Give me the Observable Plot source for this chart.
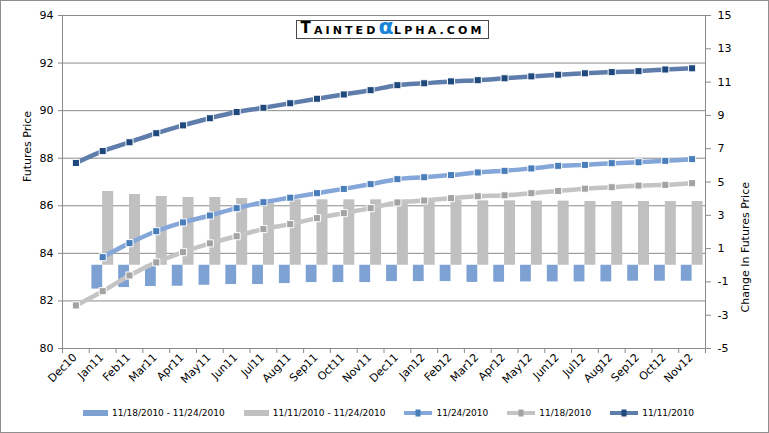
<!DOCTYPE html>
<html><head><meta charset="utf-8">
<script src="https://cdn.jsdelivr.net/npm/d3@7"></script>
<script src="https://cdn.jsdelivr.net/npm/@observablehq/plot@0.6"></script>
<style>
html,body{margin:0;padding:0;background:#fff;}
#wrap{position:relative;width:769px;height:433px;overflow:hidden;background:#fff;font-family:"DejaVu Sans",sans-serif;color:#000;}
#border{position:absolute;left:0;top:0;width:769px;height:433px;box-sizing:border-box;border:1px solid #8f8f8f;pointer-events:none;}
#logo{position:absolute;left:296px;top:20px;width:193px;height:19px;box-sizing:border-box;border:1px solid #4a4a4a;background:#fff;display:flex;align-items:flex-end;justify-content:center;font-family:"DejaVu Sans",sans-serif;font-weight:bold;line-height:1;white-space:nowrap;letter-spacing:3.1px;padding-bottom:2px;}
#logo .big{font-size:15px;}
#logo .sm{font-size:11px;}
#logo .al{font-size:22px;color:#1a84d6;line-height:0.8;letter-spacing:0.5px;}
#legend{position:absolute;left:4px;top:408px;width:769px;display:flex;justify-content:center;align-items:center;gap:19px;font-size:9px;font-family:"DejaVu Sans",sans-serif;}
#legend .it{display:flex;align-items:center;gap:4px;}
</style>
</head><body>
<div id="wrap">
<div id="chart"></div>
<div id="logo"><span class="big">T</span><span class="sm">AINTED</span><span class="al">α</span><span class="sm">LPHA.COM</span></div>
<div id="legend"></div>
<div id="border"></div>
</div>
<script>
const months = ["Dec10","Jan11","Feb11","Mar11","Apr11","May11","Jun11","Jul11","Aug11","Sep11","Oct11","Nov11","Dec11","Jan12","Feb12","Mar12","Apr12","May12","Jun12","Jul12","Aug12","Sep12","Oct12","Nov12"];
const price1111 = [87.80,88.30,88.67,89.05,89.38,89.68,89.94,90.12,90.31,90.50,90.68,90.86,91.07,91.15,91.23,91.28,91.36,91.44,91.51,91.57,91.62,91.66,91.73,91.78];
const price1124 = [null,83.84,84.43,84.93,85.30,85.59,85.90,86.15,86.34,86.53,86.71,86.91,87.12,87.20,87.29,87.40,87.47,87.57,87.68,87.72,87.79,87.83,87.89,87.96];
const price1118 = [81.81,82.41,83.07,83.62,84.05,84.42,84.72,85.02,85.23,85.48,85.69,85.90,86.14,86.22,86.32,86.40,86.44,86.53,86.62,86.72,86.78,86.85,86.88,86.95];
const chg1118_1124 = [null,-1.43,-1.34,-1.28,-1.26,-1.20,-1.16,-1.16,-1.10,-1.04,-1.04,-1.04,-0.98,-0.98,-0.98,-1.03,-1.02,-1.00,-1.00,-1.00,-1.00,-0.96,-0.96,-0.96];
const chg1111_1124 = [null,4.43,4.25,4.13,4.07,4.07,4.01,3.95,3.93,3.93,3.93,3.93,3.92,3.90,3.90,3.87,3.87,3.85,3.85,3.83,3.83,3.83,3.83,3.83];
const leftTicks = [80,82,84,86,88,90,92,94];
const rightTicks = [-5,-3,-1,1,3,5,7,9,11,13,15];
const leftDomain = [80,94];
const rightDomain = [-5,15];
const seriesNames = ["11/18/2010 - 11/24/2010","11/11/2010 - 11/24/2010","11/24/2010","11/18/2010","11/11/2010"];

// map the secondary (right) axis values onto the primary y scale
const k = (leftDomain[1]-leftDomain[0])/(rightDomain[1]-rightDomain[0]);
const toLeft = v => leftDomain[0] + (v - rightDomain[0]) * k;
const toRight = v => Math.round((v - leftDomain[0]) / k + rightDomain[0]);

const rows = months.map((m,i) => ({month:m, p1111:price1111[i], p1124:price1124[i], p1118:price1118[i], c18:chg1118_1124[i], c11:chg1111_1124[i]}));

const W = 769, H = 395, ML = 62, MR = 64, MT = 15, MB = 47;
const bw = (W - ML - MR) / months.length;
const grid = "#8a8a8a";

const C = {
  barBlue:"#7ea1d3", barGray:"#c0c0c0",
  l1124:"#84a6d8", m1124:"#4a7ebb",
  l1118:"#c4c4c4", m1118:"#a3a3a3",
  l1111:"#5f7dab", m1111:"#1f497d"
};

const chart = Plot.plot({
  width: W, height: H,
  marginLeft: ML, marginRight: MR, marginTop: MT, marginBottom: MB,
  style: {fontFamily: '"DejaVu Sans", sans-serif', fontSize: "11px", color: "#000", background: "transparent"},
  x: {type: "band", domain: months, padding: 0, round: false},
  y: {domain: leftDomain},
  marks: [
    Plot.gridY(leftTicks, {stroke: grid, strokeOpacity: 1}),
    Plot.barY(rows.filter(d => d.c18 != null), {x: "month", y1: () => toLeft(0), y2: d => toLeft(d.c18), fill: C.barBlue, insetLeft: 2.6, insetRight: bw/2}),
    Plot.barY(rows.filter(d => d.c11 != null), {x: "month", y1: () => toLeft(0), y2: d => toLeft(d.c11), fill: C.barGray, insetLeft: bw/2, insetRight: 2.4}),
    Plot.frame({stroke: grid}),
    Plot.axisY({ticks: leftTicks, tickSize: 4, tickPadding: 5, label: null, stroke: grid}),
    Plot.axisY({anchor: "right", ticks: rightTicks.map(toLeft), tickFormat: toRight, tickSize: 5, tickPadding: 7, label: null, stroke: grid}),
    Plot.axisX({tickSize: 0, tickRotate: -45, tickPadding: 7, dx: -1, label: null}),
    Plot.axisX({tickSize: 5, tickFormat: () => "", dx: -bw/2, label: null, stroke: grid}),
    Plot.axisX({ticks: [months[months.length-1]], tickSize: 5, tickFormat: () => "", dx: bw/2, label: null, stroke: grid}),
    Plot.line(rows.filter(d => d.p1118 != null), {x: "month", y: "p1118", stroke: C.l1118, strokeWidth: 4.5, curve: "catmull-rom"}),
    Plot.line(rows.filter(d => d.p1124 != null), {x: "month", y: "p1124", stroke: C.l1124, strokeWidth: 4.5, curve: "catmull-rom"}),
    Plot.line(rows.filter(d => d.p1111 != null), {x: "month", y: "p1111", stroke: C.l1111, strokeWidth: 4.5, curve: "catmull-rom"}),
    Plot.dot(rows.filter(d => d.p1118 != null), {x: "month", y: "p1118", symbol: "square", r: 4, fill: C.m1118, stroke: "white", strokeWidth: 1}),
    Plot.dot(rows.filter(d => d.p1124 != null), {x: "month", y: "p1124", symbol: "square", r: 4, fill: C.m1124, stroke: "white", strokeWidth: 1}),
    Plot.dot(rows.filter(d => d.p1111 != null), {x: "month", y: "p1111", symbol: "square", r: 4, fill: C.m1111, stroke: "white", strokeWidth: 1}),
    Plot.text(["Futures Price"], {text: d => d, frameAnchor: "left", dx: -35, rotate: -90, fontSize: 11}),
    Plot.text(["Change In Futures Price"], {text: d => d, frameAnchor: "right", dx: 40, rotate: -90, fontSize: 11})
  ]
});
document.getElementById("chart").appendChild(chart);

// legend
const legendSpec = [
  {name: seriesNames[0], type: "bar", color: C.barBlue},
  {name: seriesNames[1], type: "bar", color: C.barGray},
  {name: seriesNames[2], type: "line", color: C.l1124, mark: C.m1124},
  {name: seriesNames[3], type: "line", color: C.l1118, mark: C.m1118},
  {name: seriesNames[4], type: "line", color: C.l1111, mark: C.m1111}
];
const leg = document.getElementById("legend");
for (const s of legendSpec) {
  const it = document.createElement("div");
  it.className = "it";
  let sw;
  if (s.type === "bar") {
    sw = `<svg width="25" height="8"><rect x="0" y="1" width="25" height="6" fill="${s.color}"/></svg>`;
  } else {
    sw = `<svg width="28" height="8"><line x1="0" x2="28" y1="4" y2="4" stroke="${s.color}" stroke-width="4"/><rect x="11.5" y="0.5" width="5" height="7" fill="${s.mark}"/></svg>`;
  }
  it.innerHTML = sw + `<span>${s.name}</span>`;
  leg.appendChild(it);
}
</script>
</body></html>
